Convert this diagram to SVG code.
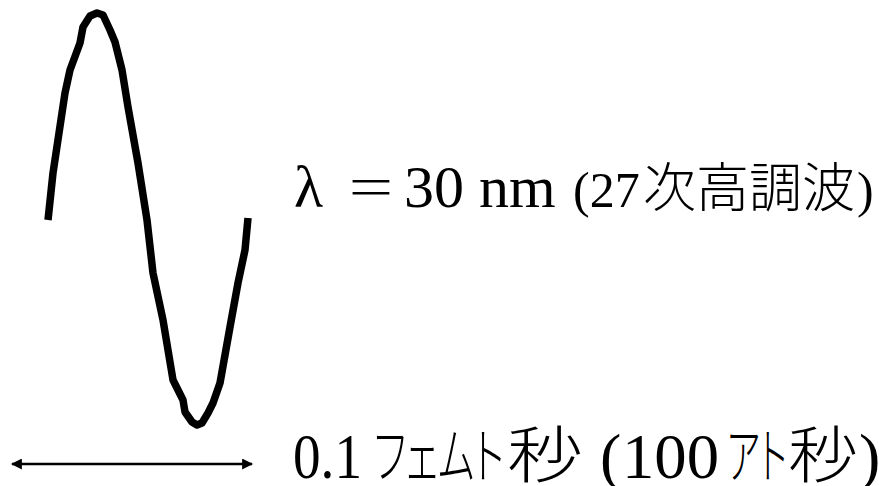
<svg xmlns="http://www.w3.org/2000/svg" width="879" height="486" viewBox="0 0 879 486">
  <style>
    .wave { fill: none; stroke: #000; stroke-width: 7.5; stroke-linejoin: round; stroke-linecap: butt; }
    .arrow { stroke: #000; stroke-width: 2.5; fill: none; }
    .serif { font-family: "Liberation Serif", "Times New Roman", serif; fill: #000; }
    .cjk { font-family: "Noto Sans CJK JP", "Noto Sans CJK SC", sans-serif; fill: #000; font-weight: 300; }
    .kana { font-feature-settings: "palt" 1; }
  </style>
  <defs>
    <marker id="ah" viewBox="0 0 10 10" refX="9" refY="5" markerWidth="4.4" markerHeight="4.4" orient="auto-start-reverse" markerUnits="strokeWidth">
      <path d="M0,0 L10,5 L0,10 Z" fill="#000"/>
    </marker>
  </defs>
  <rect width="879" height="486" fill="#fff"/>

  <g id="wave">
    <polyline class="wave" points="48,220 53,173 62,113 65,93 70,70 80,43 83,27 90,16 97,13 103,15 110,30 115,42 122,70 128,107 138,163 147,220 153,273 163,320 173,380 177,388 183,400 185,412 192,422 197,425 202,423 208,413 213,403 220,383 230,327 238,283 245,250 248,218"/>
  </g>

  <g id="connectors">
    <line class="arrow" x1="12" y1="464" x2="252" y2="464" marker-start="url(#ah)" marker-end="url(#ah)"/>
  </g>

  <g id="label-wavelength">
    <text y="207">
      <tspan class="serif" x="294" font-size="60">λ</tspan>
      <tspan class="cjk" x="346" font-size="52" textLength="50" lengthAdjust="spacingAndGlyphs" font-weight="400">＝</tspan>
      <tspan class="serif" x="404" font-size="60">30 nm</tspan>
      <tspan class="serif" x="573" font-size="50">(27</tspan>
      <tspan class="cjk" x="643" font-size="53" textLength="212" lengthAdjust="spacingAndGlyphs">次高調波</tspan>
      <tspan class="serif" x="857" font-size="50">)</tspan>
    </text>
  </g>

  <g id="label-duration">
    <text y="478">
      <tspan class="serif" x="293" font-size="64" textLength="69" lengthAdjust="spacingAndGlyphs">0.1</tspan>
      <tspan class="cjk kana" x="374" font-size="60" textLength="130" lengthAdjust="spacingAndGlyphs">フェムト</tspan>
      <tspan class="cjk" x="507" font-size="62" textLength="76" lengthAdjust="spacingAndGlyphs">秒</tspan>
      <tspan class="serif" x="600" font-size="64">(</tspan>
      <tspan class="serif" x="622" font-size="64" textLength="97" lengthAdjust="spacingAndGlyphs">100</tspan>
      <tspan class="cjk kana" x="727" font-size="60" textLength="60" lengthAdjust="spacingAndGlyphs">アト</tspan>
      <tspan class="cjk" x="788" font-size="62" textLength="70" lengthAdjust="spacingAndGlyphs">秒</tspan>
      <tspan class="serif" x="859" font-size="64">)</tspan>
    </text>
  </g>
</svg>
